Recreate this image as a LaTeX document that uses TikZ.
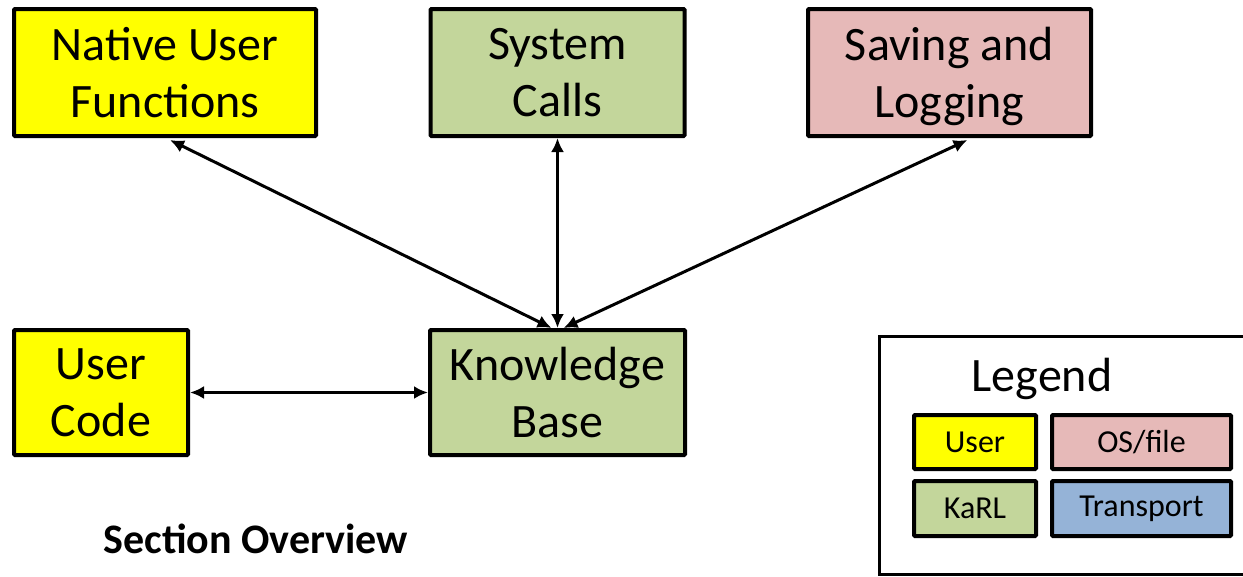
\documentclass[tikz,border=0pt]{standalone}
\usepackage{fontspec}
\setmainfont{Carlito}
\usetikzlibrary{arrows.meta,calc}
\definecolor{userY}{HTML}{FFFF00}
\definecolor{karlG}{HTML}{C3D69B}
\definecolor{osP}{HTML}{E6B9B8}
\definecolor{trB}{HTML}{95B3D7}
\tikzset{
  box/.style={draw=black, line width=4pt, rounded corners=1pt, inner sep=0pt,
    align=center, font=\fontsize{48}{57}\selectfont},
  keybox/.style={draw=black, line width=4pt, rounded corners=1pt, inner sep=0pt,
    align=center, font=\fontsize{32}{36}\selectfont},
  link/.style={line width=3pt, {Latex[length=14pt,width=13pt]}-{Latex[length=14pt,width=13pt]}}
}
\begin{document}
\begin{tikzpicture}[x=1pt,y=1pt]
\useasboundingbox (0,0) rectangle (1243,-576);
\clip (0,0) rectangle (1243,-576);

% main blocks
\node[box, fill=userY, minimum width=302pt, minimum height=127pt] (nuf) at (165,-72.5) {Native User\\Functions};
\node[box, fill=karlG, minimum width=254pt, minimum height=127pt] (sys) at (557.5,-72.5) {System\\Calls};
\node[box, fill=osP, minimum width=283pt, minimum height=127pt] (sav) at (949.5,-72.5) {Saving and\\\raisebox{0pt}[\height][0pt]{Logging}};
\node[box, fill=userY, minimum width=174pt, minimum height=125pt] (uc) at (101,-392.5) {User\\Code};
\node[box, fill=karlG, minimum width=255pt, minimum height=125pt] (kb) at (557.5,-392.5) {Knowledge\\Base};

% connectors
\draw[link] ($(nuf.south)+(5,-2)$) -- ($(kb.north)+(-6,0)$);
\draw[link] (sys.south) -- (kb.north);
\draw[link] ($(sav.south)+(18,-2)$) -- ($(kb.north)+(6,0)$);
\draw[link] (uc.east) -- (kb.west);

% caption
\node[font=\fontsize{42}{48}\selectfont\bfseries, anchor=base] (cap) at (256,-553) {Section Overview};

% legend
\draw[line width=3pt] (879.5,-336.5) rectangle (1260,-574.5);
\node[font=\fontsize{48}{56}\selectfont, anchor=base] (leg) at (1042,-391) {Legend};
\node[keybox, fill=userY, minimum width=122pt, minimum height=54pt] (kuser) at (975,-442) {User};
\node[keybox, fill=osP, minimum width=179pt, minimum height=54pt] (kos) at (1141.5,-442) {OS/file};
\node[keybox, fill=karlG, minimum width=122pt, minimum height=55pt] (kkarl) at (975,-508.5) {KaRL};
\node[keybox, fill=trB, minimum width=179pt, minimum height=55pt] (ktr) at (1141.5,-508.5) {Transport};
\end{tikzpicture}
\end{document}
